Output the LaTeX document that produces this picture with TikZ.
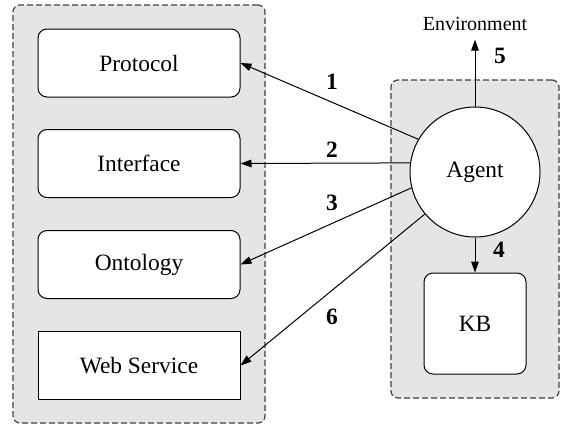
\documentclass[tikz,border=0pt]{standalone}
\usepackage{fontspec}
\setmainfont{Liberation Serif}
\usetikzlibrary{arrows.meta}
\begin{document}
\begin{tikzpicture}[x=0.5pt,y=-0.5pt,
  container/.style={draw=black!75, fill=black!10, dash pattern=on 3pt off 1.5pt, rounded corners=3.5pt, line width=0.6pt, inner sep=0pt},
  rbox/.style={draw, fill=white, rounded corners=4.5pt, line width=0.5pt, minimum width=101pt, minimum height=34pt, font=\fontsize{11.7}{14}\selectfont},
  sbox/.style={draw, fill=white, line width=0.5pt, minimum width=101pt, minimum height=34pt, font=\fontsize{11.7}{14}\selectfont},
  num/.style={font=\fontsize{11.7}{14}\selectfont\bfseries},
  arr/.style={line width=0.5pt, -{Triangle[length=5.5pt,width=3.8pt]}}]
\useasboundingbox (0,0) rectangle (567,429);
\node[container, minimum width=126pt, minimum height=209pt] (leftc) at (139,214) {};
\node[container, minimum width=84pt, minimum height=159pt] (rightc) at (475,239) {};
\node[rbox] (proto) at (139,63) {Protocol};
\node[rbox] (iface) at (139,163.5) {Interface};
\node[rbox] (onto) at (139,264.5) {Ontology};
\node[sbox] (ws) at (139,365.5) {Web Service};
\node[circle, draw, fill=white, line width=0.5pt, minimum size=65pt, inner sep=0pt, font=\fontsize{11.7}{14}\selectfont] (agent) at (475,172) {Agent};
\node[rbox, minimum width=51pt, minimum height=50.5pt] (kb) at (475,323.5) {KB};
\node[anchor=base, inner sep=4.5pt, font=\fontsize{10}{12}\selectfont] (env) at (475,30) {Environment};
\draw[arr] (agent.150) -- (proto.east);
\draw[arr] (agent.172) -- (iface.east);
\draw[arr] (agent.194) -- (onto.east);
\draw[arr] (agent.220) -- (ws.east);
\draw[arr] (agent.south) -- (kb.north);
\draw[arr] (agent.north) -- (env.south);
\node[num] (n1) at (332,82) {1};
\node[num] (n2) at (332,150) {2};
\node[num] (n3) at (332,203) {3};
\node[num] (n4) at (499,250) {4};
\node[num] (n5) at (500,56) {5};
\node[num] (n6) at (332,317) {6};
\end{tikzpicture}
\end{document}
